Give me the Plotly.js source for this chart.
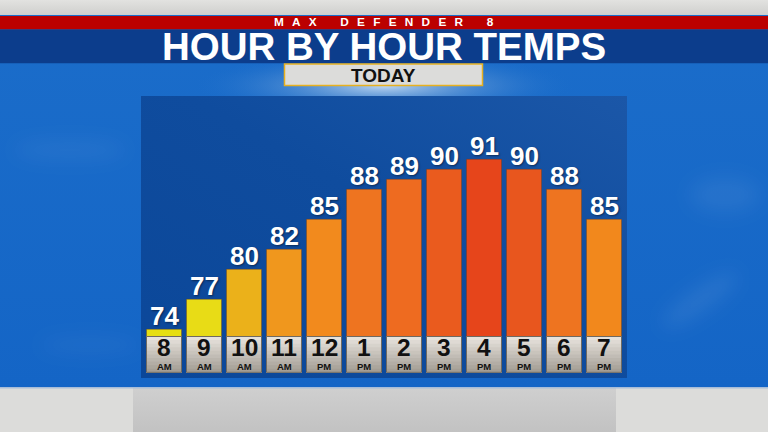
<!DOCTYPE html>
<html><head><meta charset="utf-8">
<script src="https://cdn.plot.ly/plotly-3.0.1.min.js"></script>
<style>html,body{margin:0;padding:0;background:#1565c6;overflow:hidden}#chart{width:768px;height:432px}</style>
</head><body><div id="chart"></div>
<script>
// ---- data ----
const hours   = ["8","9","10","11","12","1","2","3","4","5","6","7"];
const periods = ["AM","AM","AM","AM","PM","PM","PM","PM","PM","PM","PM","PM"];
const temps   = [74,77,80,82,85,88,89,90,91,90,88,85];
const barColors = ["#e6df12","#e8dc16","#ebb11a","#f0971d","#f28a1d","#ee7420","#ee6b20","#ea5b1e","#e6451b","#e8561e","#ee7420","#f2881c"];
const categories = hours.map((h,i)=>h+" "+periods[i]);

// ---- geometry ----
const W=768,H=432, PL=141, PR=627, PT=96, PB=378;
const pxPerDeg = 10;
const yMin = 69.13, yMax = yMin + (PB-PT)/pxPerDeg;
const pxToY = py => yMin + (PB-py)/pxPerDeg;
const pX = px => (px-PL)/(PR-PL);
const pY = py => (PB-py)/(PB-PT);
const cellTop = pxToY(336.5), cellBottom = pxToY(372.3);
const FONT = '"Liberation Sans", Arial, Helvetica, sans-serif';

// ---- background art ----
const svg = `<svg xmlns='http://www.w3.org/2000/svg' width='768' height='432'>
<defs>
<linearGradient id='tg' x1='0' y1='0' x2='0' y2='1'><stop offset='0' stop-color='#e2e2e0'/><stop offset='1' stop-color='#cfcfcd'/></linearGradient>
<linearGradient id='bl' x1='0' y1='0' x2='0' y2='1'><stop offset='0' stop-color='#1b6dca'/><stop offset='1' stop-color='#1465c6'/></linearGradient>
<radialGradient id='gl' cx='0.5' cy='0.5' r='0.5'><stop offset='0' stop-color='#c6dcf2' stop-opacity='0.95'/><stop offset='0.45' stop-color='#7aa8dc' stop-opacity='0.5'/><stop offset='1' stop-color='#1c6ecb' stop-opacity='0'/></radialGradient>
<linearGradient id='pn' x1='1' y1='0' x2='0' y2='1'><stop offset='0' stop-color='#1b57a8'/><stop offset='0.45' stop-color='#0f4c9e'/><stop offset='1' stop-color='#0b4799'/></linearGradient>
<linearGradient id='bg' x1='0' y1='0' x2='0' y2='1'><stop offset='0' stop-color='#cfcfcf'/><stop offset='1' stop-color='#c2c2c2'/></linearGradient>
<filter id='bf' x='-50%' y='-50%' width='200%' height='200%'><feGaussianBlur stdDeviation='9'/></filter>
</defs>
<rect width='768' height='15' fill='url(#tg)'/>
<rect y='15' width='768' height='373' fill='url(#bl)'/>
<g filter='url(#bf)' fill='#ffffff'>
<ellipse cx='70' cy='150' rx='55' ry='10' opacity='0.05'/>
<ellipse cx='725' cy='195' rx='35' ry='18' opacity='0.06'/>
<ellipse cx='700' cy='300' rx='45' ry='12' opacity='0.07' transform='rotate(-35 700 300)'/>
<ellipse cx='90' cy='345' rx='50' ry='9' opacity='0.04'/>
</g>
<ellipse cx='384' cy='86' rx='190' ry='34' fill='url(#gl)'/>
<rect x='141' y='96' width='486' height='282' fill='url(#pn)'/>
<rect y='388' width='768' height='44' fill='#dcdcda'/>
<rect x='133' y='388' width='483' height='44' fill='url(#bg)'/>
<rect y='387' width='768' height='1.5' fill='#a8bdd8'/>
</svg>`;
const bgSrc = 'data:image/svg+xml;charset=utf-8,' + encodeURIComponent(svg);

// ---- traces ----
const BW = 0.875;
const traces = [];
traces.push({
  type:'bar', x:categories, y:temps.map(t=>t-cellBottom), base:cellBottom, width:BW,
  marker:{color:barColors, line:{color:'rgba(120,55,0,0.35)', width:1}},
  hoverinfo:'skip', showlegend:false
});
// label cells drawn as stacked gradient bands
const N = 10;
const c0 = [230,226,220], c1 = [164,158,149];
for (let k=0;k<N;k++){
  const f = k/(N-1);
  const col = 'rgb('+c0.map((v,j)=>Math.round(v+(c1[j]-v)*f)).join(',')+')';
  const top = cellTop - (cellTop-cellBottom)*k/N;
  traces.push({type:'bar', x:categories, y:categories.map(()=>top-cellBottom), base:cellBottom, width:BW,
    marker:{color:col, line:{width:0}}, hoverinfo:'skip', showlegend:false});
}
traces.push({type:'bar', x:categories, y:categories.map(()=>cellTop-cellBottom), base:cellBottom, width:BW,
  marker:{color:'rgba(0,0,0,0)', line:{color:'#6f6a62', width:1}}, hoverinfo:'skip', showlegend:false});

// ---- annotations ----
const ann = [];
temps.forEach((t,i)=>{
  ann.push({x:categories[i], y:t, xref:'x', yref:'y', text:String(t), showarrow:false, yanchor:'bottom', yshift:-4,
    font:{family:FONT, size:26, color:'#ffffff', weight:700, shadow:'1px 1px 2px rgba(0,0,0,0.45)'}});
  ann.push({x:categories[i], y:pxToY(347.3), xref:'x', yref:'y', text:hours[i], showarrow:false, yanchor:'middle',
    borderpad:0, font:{family:FONT, size:24.5, color:'#111111', weight:700}});
  ann.push({x:categories[i], y:pxToY(366), xref:'x', yref:'y', text:periods[i], showarrow:false, yanchor:'middle',
    borderpad:0, font:{family:FONT, size:9.5, color:'#111111', weight:700}});
});
const sp = '\u2002\u2009', wsp = '\u2003\u2003';
ann.push({xref:'paper', yref:'paper', x:pX(384), y:pY(22.5), text:['M','A','X'].join(sp)+wsp+['D','E','F','E','N','D','E','R'].join(sp)+wsp+'8',
  showarrow:false, xanchor:'center', yanchor:'middle', borderpad:0, font:{family:FONT, size:11.8, color:'#ffffff', weight:700}});
ann.push({xref:'paper', yref:'paper', x:pX(384), y:pY(46.3), text:'HOUR BY HOUR TEMPS',
  showarrow:false, xanchor:'center', yanchor:'middle', borderpad:0, font:{family:FONT, size:38.5, color:'#ffffff', weight:700}});
ann.push({xref:'paper', yref:'paper', x:pX(383.5), y:pY(75.3), text:'TODAY',
  showarrow:false, xanchor:'center', yanchor:'middle', borderpad:0, font:{family:FONT, size:19, color:'#111111', weight:700}});

// ---- shapes ----
const shapes = [
  {type:'rect', xref:'paper', yref:'paper', x0:pX(0), x1:pX(768), y0:pY(16), y1:pY(29.5), fillcolor:'#bb0000', line:{width:0}, layer:'above'},
  {type:'rect', xref:'paper', yref:'paper', x0:pX(0), x1:pX(768), y0:pY(29.5), y1:pY(63.3), fillcolor:'#0c3d8c', line:{width:0}, layer:'above'},
  {type:'rect', xref:'paper', yref:'paper', x0:pX(284.5), x1:pX(482.5), y0:pY(64), y1:pY(85.5), fillcolor:'#dcdcda', line:{color:'#e6b020', width:1.5}, layer:'above'}
];

const layout = {
  width:W, height:H, margin:{l:PL, r:W-PR, t:PT, b:H-PB, pad:0},
  paper_bgcolor:'#1565c6', plot_bgcolor:'rgba(0,0,0,0)',
  barmode:'overlay', showlegend:false,
  xaxis:{type:'category', range:[-0.575, 11.575], visible:false, fixedrange:true},
  yaxis:{range:[yMin, yMax], visible:false, fixedrange:true},
  images:[{source:bgSrc, xref:'paper', yref:'paper', x:pX(0), y:pY(0), sizex:W/(PR-PL), sizey:H/(PB-PT),
    xanchor:'left', yanchor:'top', sizing:'stretch', layer:'below'}],
  shapes:shapes, annotations:ann
};
Plotly.newPlot('chart', traces, layout, {staticPlot:true, displayModeBar:false});
</script></body></html>
